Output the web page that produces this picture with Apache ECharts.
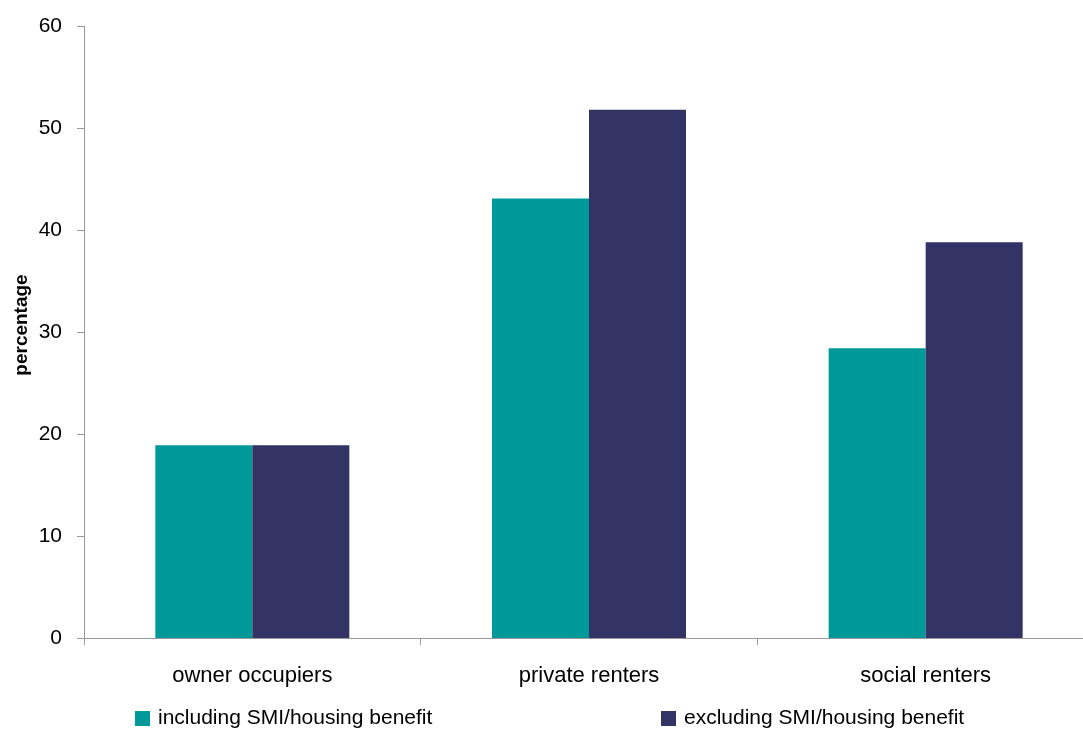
<!DOCTYPE html>
<html>
<head>
<meta charset="utf-8">
<script src="https://cdn.jsdelivr.net/npm/echarts@6/dist/echarts.min.js"></script>
<style>
  html, body { margin: 0; padding: 0; background: #fff; }
  #chart { width: 1083px; height: 729px; }
</style>
</head>
<body>
<div id="chart"></div>
<script>
// Housing tenure groups and percentages
const categories = ['owner occupiers', 'private renters', 'social renters'];
const includingSMI = [18.9, 43.1, 28.4];
const excludingSMI = [18.9, 51.8, 38.8];
const seriesNames = ['including SMI/housing benefit', 'excluding SMI/housing benefit'];
const yTicks = { min: 0, max: 60, interval: 10 };
const yTitle = 'percentage';

const TEAL = '#009999';
const NAVY = '#333366';
const AXIS = '#999999';
const FONT = 'Liberation Sans, Arial, sans-serif';

const legendText = { fontFamily: FONT, fontSize: 21, color: '#000', padding: [0, 0, 0, 3] };

const chart = echarts.init(document.getElementById('chart'));
chart.setOption({
  backgroundColor: '#ffffff',
  animation: false,
  grid: { left: 84, top: 26, width: 1010, height: 612, containLabel: false, outerBoundsMode: 'none' },
  legend: [
    {
      data: [seriesNames[0]], padding: 0,
      left: 135, top: 708,
      itemWidth: 15, itemHeight: 15, icon: 'rect', itemGap: 0,
      textStyle: legendText
    },
    {
      data: [seriesNames[1]], padding: 0,
      left: 661, top: 708,
      itemWidth: 15, itemHeight: 15, icon: 'rect', itemGap: 0,
      textStyle: legendText
    }
  ],
  graphic: [
    {
      // rotated axis title beside the value axis
      type: 'text', z: 10,
      x: 22, y: 325,
      rotation: Math.PI / 2,
      style: {
        text: yTitle, fontFamily: FONT, fontSize: 19, fontWeight: 'bold', fill: '#000',
        align: 'center', verticalAlign: 'middle'
      }
    }
  ],
  xAxis: {
    type: 'category',
    data: categories,
    axisLine: { lineStyle: { color: AXIS, width: 1 } },
    axisTick: { show: true, length: 7, alignWithLabel: false, lineStyle: { color: AXIS } },
    axisLabel: { fontFamily: FONT, fontSize: 22, color: '#000', margin: 27 },
    splitLine: { show: false }
  },
  yAxis: {
    type: 'value',
    min: yTicks.min, max: yTicks.max, interval: yTicks.interval,
    axisLine: { show: true, lineStyle: { color: AXIS, width: 1 } },
    axisTick: { show: true, length: 7, lineStyle: { color: AXIS } },
    axisLabel: { fontFamily: FONT, fontSize: 21, color: '#000', margin: 22 },
    splitLine: { show: false }
  },
  series: [
    {
      name: seriesNames[0], type: 'bar', data: includingSMI,
      barWidth: 97, barGap: '0%',
      itemStyle: { color: TEAL }
    },
    {
      name: seriesNames[1], type: 'bar', data: excludingSMI,
      barWidth: 97, barGap: '0%',
      itemStyle: { color: NAVY }
    }
  ]
});
</script>
</body>
</html>
